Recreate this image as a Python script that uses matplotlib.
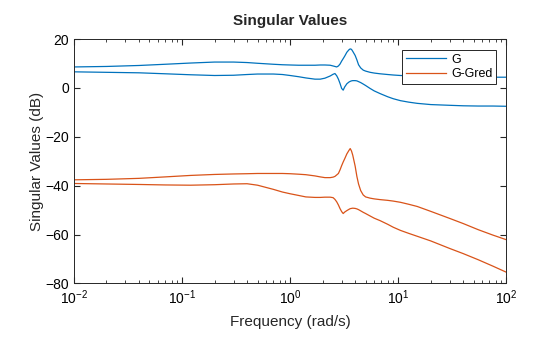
import matplotlib
matplotlib.use("Agg")
import matplotlib.pyplot as plt
from matplotlib.ticker import LogLocator, NullFormatter

plt.rcParams['font.family'] = ['Liberation Sans', 'DejaVu Sans']
plt.rcParams['mathtext.fontset'] = 'custom'
plt.rcParams['mathtext.rm'] = 'Liberation Sans'
plt.rcParams['mathtext.it'] = 'Liberation Sans:italic'
plt.rcParams['mathtext.bf'] = 'Liberation Sans:bold'

freq = [0.01, 0.02, 0.04, 0.07, 0.12, 0.2, 0.3, 0.4, 0.5, 0.7, 0.85, 1.0, 1.2, 1.4, 1.7,
        1.9, 2.1, 2.35, 2.5, 2.6, 2.7, 2.8, 2.9, 3.0, 3.1, 3.2, 3.35, 3.5, 3.6, 3.7, 3.8,
        4.0, 4.15, 4.3, 4.5, 4.75, 5.0, 5.5, 6.0, 6.8, 8, 9, 10.5, 12.5, 15, 20, 30, 40,
        55, 75, 100]

g_sv1 = [8.6, 8.8, 9.2, 9.7, 10.2, 10.6, 10.6, 10.4, 10.1, 9.7, 9.5, 9.4, 9.3, 9.3, 9.3,
         9.4, 9.4, 9.3, 9.0, 8.8, 8.6, 9.0, 9.8, 11.0, 12.0, 13.0, 14.6, 15.6, 16.0, 15.8, 15.0,
         13.3, 11.5, 9.5, 8.2, 7.3, 6.9, 6.4, 6.1, 5.8, 5.5, 5.3, 5.1, 5.0, 4.8, 4.6, 4.5, 4.5,
         4.4, 4.4, 4.4]
g_sv2 = [6.6, 6.4, 6.2, 5.8, 5.4, 5.1, 5.2, 5.5, 5.7, 5.7, 5.5, 5.1, 4.6, 4.1, 3.6,
         3.6, 4.0, 4.9, 5.6, 5.9, 5.0, 3.6, 1.8, -0.2, -0.9, 0.4, 1.7, 2.4, 2.7, 2.9, 3.0,
         3.0, 2.9, 2.6, 2.2, 1.6, 1.0, -0.2, -1.2, -2.3, -3.6, -4.4, -5.2, -5.8, -6.3, -6.8, -7.1, -7.3,
         -7.4, -7.4, -7.5]
e_sv1 = [-37.6, -37.4, -37.0, -36.4, -35.8, -35.4, -35.2, -35.1, -35.0, -35.0, -35.0, -35.1, -35.3, -35.5, -36.0,
         -36.4, -36.7, -36.7, -36.5, -36.2, -35.6, -35.0, -33.5, -31.8, -30.3, -29.0, -27.0, -25.6, -24.8, -25.8, -27.5,
         -32.0, -36.2, -39.3, -42.0, -43.8, -44.6, -45.1, -45.4, -45.7, -46.0, -46.3, -46.8, -47.6, -48.5, -50.5, -53.4, -55.5,
         -58.0, -60.2, -62.1]
e_sv2 = [-39.1, -39.3, -39.5, -39.7, -39.8, -39.6, -39.3, -39.2, -39.8, -41.5, -42.6, -43.3, -44.0, -44.6, -44.8,
         -44.8, -44.7, -44.7, -44.9, -45.6, -46.6, -47.9, -49.4, -50.6, -51.4, -50.8, -50.2, -49.7, -49.4, -49.3, -49.2,
         -49.3, -49.5, -49.8, -50.3, -50.9, -51.4, -52.4, -53.3, -54.3, -55.8, -57.0, -58.3, -59.5, -60.7, -62.6, -65.7, -67.8,
         -70.3, -72.9, -75.4]

blue = '#0072BD'
orange = '#D95319'

fig = plt.figure(figsize=(5.6, 3.37), dpi=100)
ax = fig.add_axes([0.132, 0.159, 0.772, 0.725])

ax.semilogx(freq, g_sv1, color=blue, lw=0.9, label='G')
ax.semilogx(freq, g_sv2, color=blue, lw=0.9)
ax.semilogx(freq, e_sv1, color=orange, lw=0.9, label='G-Gred')
ax.semilogx(freq, e_sv2, color=orange, lw=0.9)

ax.set_xlim(0.01, 100)
ax.set_ylim(-80, 20)
ax.set_yticks([-80, -60, -40, -20, 0, 20])
ax.xaxis.set_major_locator(LogLocator(base=10, numticks=10))
ax.xaxis.set_minor_locator(LogLocator(base=10, subs=range(2, 10), numticks=100))
ax.xaxis.set_minor_formatter(NullFormatter())

ax.tick_params(which='both', direction='in', top=True, right=True, labelsize=10, color='#262626')
ax.tick_params(which='major', length=4)
ax.tick_params(which='minor', length=2)
for s in ax.spines.values():
    s.set_linewidth(0.7)
    s.set_color('#262626')

ax.set_title('Singular Values', fontsize=11, fontweight='bold', color='#262626', pad=10)
ax.set_xlabel('Frequency (rad/s)', fontsize=11, color='#262626', labelpad=6)
ax.set_ylabel('Singular Values (dB)', fontsize=11, color='#262626', labelpad=1)

leg = ax.legend(loc='upper right', bbox_to_anchor=(0.977, 0.955), fontsize=9,
                fancybox=False, framealpha=1, edgecolor='#262626', handlelength=3.2,
                borderpad=0.3, labelspacing=0.2, handletextpad=0.4, borderaxespad=0)
leg.get_frame().set_linewidth(0.7)

fig.savefig('out.png', dpi=100)
